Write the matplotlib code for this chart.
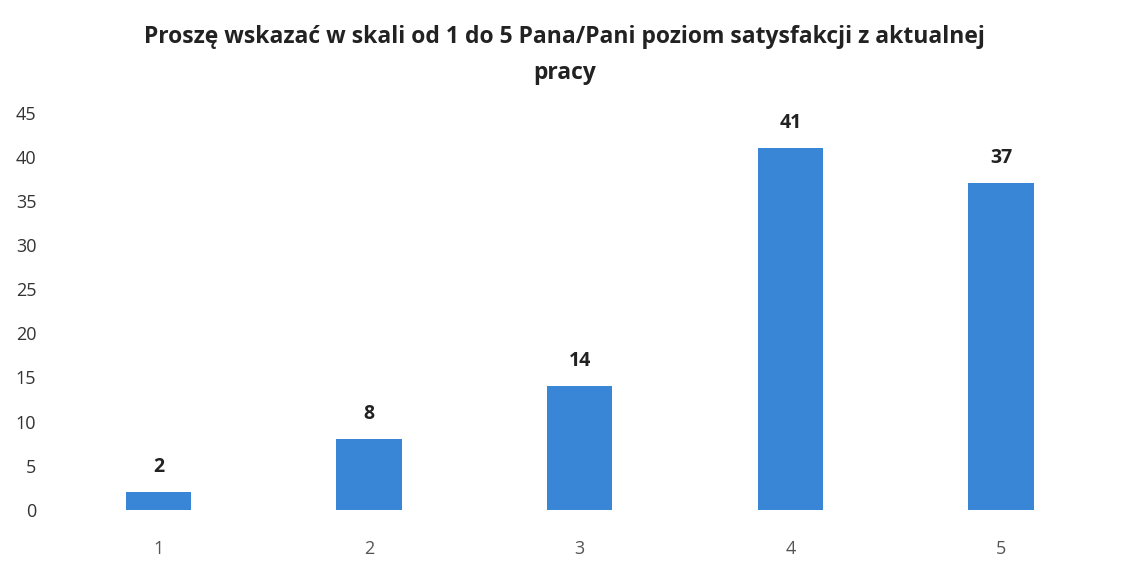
import matplotlib.pyplot as plt
import numpy as np

# dane z wykresu
kategorie = ['1', '2', '3', '4', '5']
wartosci = [2, 8, 14, 41, 37]
tytul = 'Proszę wskazać w skali od 1 do 5 Pana/Pani poziom satysfakcji z aktualnej\npracy'

plt.rcParams['font.family'] = ['Open Sans', 'DejaVu Sans']

fig = plt.figure(figsize=(11.29, 5.76), dpi=100)
ax = fig.add_axes([0.047, 0.115, 0.933, 0.689])

x = np.arange(len(kategorie))
ax.bar(x, wartosci, width=0.31, color='#3a86d6')

for xi, v in zip(x, wartosci):
    ax.text(xi, v + 1.7, str(v), ha='center', va='bottom',
            fontsize=14, fontweight='bold', color='#222222')

ax.set_xlim(-0.5, len(kategorie) - 0.5)
ax.set_ylim(0, 45)
ax.set_yticks(range(0, 46, 5))
ax.set_xticks(x)
ax.set_xticklabels(kategorie)
ax.tick_params(axis='y', length=0, labelsize=13, labelcolor='#333333', pad=12)
ax.tick_params(axis='x', length=0, labelsize=13, labelcolor='#555555', pad=22)
for s in ax.spines.values():
    s.set_visible(False)

fig.text(0.5, 0.957, tytul, ha='center', va='top', fontsize=16.5,
         fontweight='bold', color='#222222', linespacing=1.7)

fig.savefig('out.png', dpi=100)
